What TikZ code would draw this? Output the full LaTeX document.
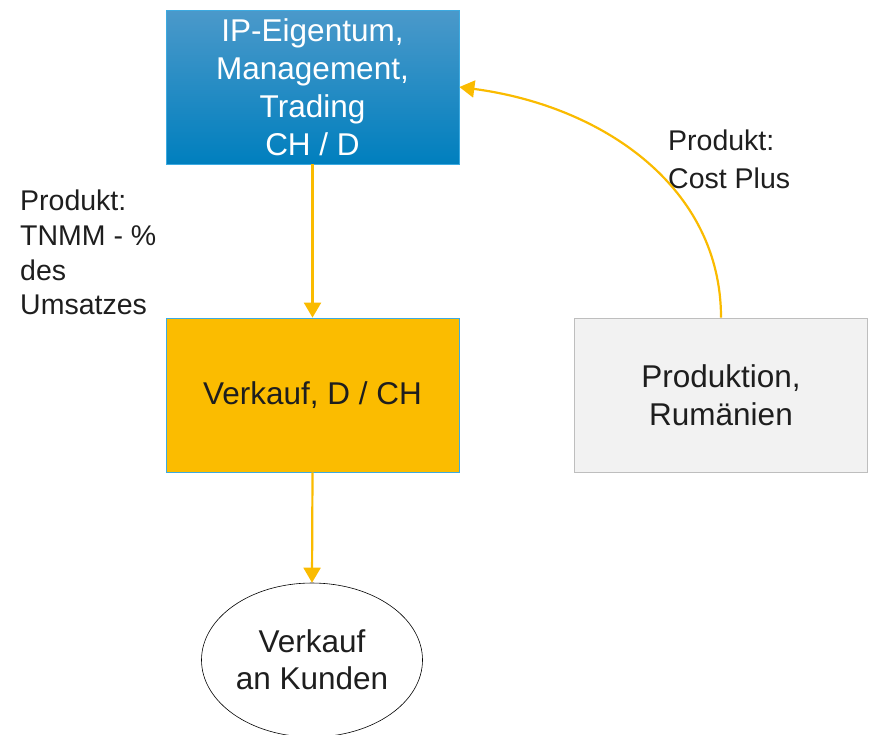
\documentclass[tikz,border=0pt]{standalone}
\usepackage{fontspec}
\setmainfont{Liberation Sans}
\usetikzlibrary{arrows.meta,shapes.geometric}
\definecolor{arrowyellow}{RGB}{250,187,0}
\definecolor{boxyellow}{RGB}{251,188,0}
\definecolor{blueborder}{RGB}{60,170,225}
\definecolor{bluetop}{RGB}{75,153,202}
\definecolor{bluebottom}{RGB}{0,127,190}
\definecolor{greyfill}{RGB}{242,242,242}
\definecolor{greyborder}{RGB}{190,190,190}
\definecolor{txt}{RGB}{30,30,30}
\begin{document}
\begin{tikzpicture}[x=1pt,y=-1pt,
  boxbase/.style={rectangle,minimum width=293pt,minimum height=154pt,inner sep=0pt,align=center,
    font=\fontsize{31.5}{38}\selectfont},
  ipbox/.style={boxbase,draw=blueborder,line width=0.8pt,top color=bluetop,bottom color=bluebottom,text=white},
  salebox/.style={boxbase,draw=blueborder,line width=0.8pt,fill=boxyellow,text=txt},
  prodbox/.style={boxbase,draw=greyborder,line width=0.8pt,fill=greyfill,text=txt},
  custnode/.style={ellipse,draw=black,line width=0.6pt,minimum width=221pt,minimum height=154pt,inner sep=0pt,
    align=center,text=txt,font=\fontsize{31.5}{37}\selectfont},
  lbl/.style={anchor=north west,inner sep=0pt,align=left,text=txt,font=\fontsize{28.5}{34.7}\selectfont},
  arr/.style={draw=arrowyellow,line width=2.2pt,-{Triangle[width=17pt,length=15pt]}}
]
\useasboundingbox (0,0) rectangle (869,734);
\node[ipbox] (ip) at (312.5,87) {\rule{0pt}{4pt}IP-Eigentum,\\Management,\\Trading\\CH / D};
\node[salebox] (sale) at (312.5,395) {Verkauf, D / CH};
\node[prodbox] (prod) at (721,395) {Produktion,\\Rumänien};
\node[custnode] (cust) at (312,660) {Verkauf\\an Kunden};
\node[lbl] (l1) at (20,190) {Produkt:\\TNMM - \%\\des\\Umsatzes};
\node[lbl, font=\fontsize{28.5}{37.5}\selectfont] (l2) at (668,130) {Produkt:\\Cost Plus};
\draw[arr] (ip.south) -- (sale.north);
\draw[arr] (sale.south) -- (cust.north);
\draw[arr] (prod.north) .. controls +(0,-130) and +(144,19) .. (ip.east);
\end{tikzpicture}
\end{document}
